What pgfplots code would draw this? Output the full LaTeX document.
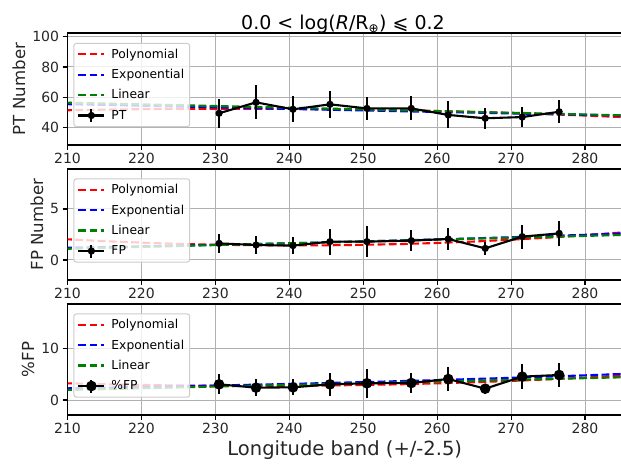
\documentclass[border=0pt]{standalone}
\usepackage{pgfplots}
\pgfplotsset{compat=1.18}
\usepackage{fontspec}
\setmainfont{DejaVu Sans}
\definecolor{mplgreen}{rgb}{0,0.5,0}
\definecolor{gridgray}{HTML}{B0B0B0}

\pgfplotstableread{
x y e
230.5 49.5 9.7
235.5 56.7 11.3
240.5 52.1 8.5
245.5 55.4 8.8
250.5 52.7 7.6
256.5 52.7 7.9
261.5 48.4 8.9
266.5 46.2 6.8
271.5 47.0 6.6
276.5 50.5 7.7
}\PTdata
\pgfplotstableread{
x y e
230.5 1.63 0.90
235.5 1.47 0.88
240.5 1.41 0.82
245.5 1.80 1.27
250.5 1.80 1.52
256.5 1.90 1.01
261.5 2.06 1.11
266.5 1.14 0.65
271.5 2.29 1.18
276.5 2.61 1.21
}\FPdata
\pgfplotstableread{
x y e
230.5 3.03 1.94
235.5 2.39 1.58
240.5 2.45 1.55
245.5 3.03 2.19
250.5 3.23 2.77
256.5 3.29 1.90
261.5 4.06 2.35
266.5 2.19 1.00
271.5 4.52 2.45
276.5 4.84 2.35
}\PFPdata

\pgfplotsset{
  panel/.style={
    scale only axis, width=554.5pt,
    xmin=210, xmax=285,
    xtick={210,220,...,280},
    tick pos=left, tick align=outside,
    major tick length=4.9pt,
    every tick/.style={black, line width=1.1pt},
    axis line style={line width=1.1pt},
    grid=major,
    major grid style={gridgray, line width=1pt},
    /pgf/number format/assume math mode=true,
    tick label style={font=\fontsize{14}{16}\selectfont, text=black!85},
    ylabel style={font=\fontsize{16.6}{19}\selectfont, text=black!85},
    legend cell align=left,
    legend style={at={(0,0.5)}, anchor=west, xshift=5.85pt, yshift=4pt,
      draw=black!20, line width=1pt, rounded corners=2.5pt, fill=white,
      fill opacity=0.8, draw opacity=1, text opacity=1,
      font=\fontsize{12.3}{14}\selectfont, inner sep=3.5pt, row sep=5.5pt,
      /tikz/every odd column/.append style={column sep=4pt}},
  },
  fitline/.style={line width=2.1pt, dash pattern=on 7.8pt off 3.4pt, no markers,
    legend image code/.code={\draw[##1, fill opacity=1, draw opacity=1] (0pt,0pt) -- (26pt,0pt);}},
  datline/.style={black, line width=2.1pt, mark=*, mark size=#1,
    mark options={solid, fill=black},
    error bars/y dir=both, error bars/y explicit, error bars/error mark=none,
    error bars/error bar style={line width=2.1pt, black},
    legend image code/.code={\draw[black,line width=2.1pt, fill opacity=1] (0pt,0pt)--(26pt,0pt); \draw[black,line width=2.1pt] (13pt,-6.5pt)--(13pt,6.5pt); \fill[black, fill opacity=1] (13pt,0pt) circle (#1);}},
}

\begin{document}
\begin{tikzpicture}
% ---------------- top panel
\begin{axis}[panel, at={(67.5pt,323pt)}, anchor=south west, height=112pt,
  ymin=28.6, ymax=102.4, ytick={40,60,80,100}, ylabel={PT Number}]
\addplot[red, fitline] coordinates {(205,51.0) (210,51.5) (215,51.9) (220,52.2) (225,52.4) (230,52.5) (235,52.5) (240,52.4) (245,52.2) (250,51.9) (255,51.5) (260,51.0) (265,50.4) (270,49.7) (275,48.9) (280,48.0) (285,47.0) (290,45.9)};
\addlegendentry{Polynomial}
\addplot[blue, fitline] coordinates {(205,56.04) (210,55.5) (220,54.44) (230,53.39) (240,52.37) (250,51.36) (260,50.38) (270,49.41) (280,48.47) (290,47.54)};
\addlegendentry{Exponential}
\addplot[mplgreen, fitline] coordinates {(205,57.05) (290,47.64)};
\addlegendentry{Linear}
\addplot[datline=2.5pt] table[x=x, y=y, y error=e] {\PTdata};
\addlegendentry{PT}
\end{axis}
% ---------------- middle panel
\begin{axis}[panel, at={(67.5pt,188pt)}, anchor=south west, height=111pt,
  ymin=-1.96, ymax=8.92, ytick={0,5}, ylabel={FP Number}]
\addplot[red, fitline] coordinates {(205,2.24) (210,2.03) (215,1.85) (220,1.70) (225,1.58) (230,1.50) (235,1.45) (240,1.43) (245,1.44) (250,1.49) (255,1.56) (260,1.67) (265,1.81) (270,1.99) (275,2.19) (280,2.43) (285,2.70) (290,3.00)};
\addlegendentry{Polynomial}
\addplot[blue, fitline] coordinates {(205,1.15) (210,1.21) (220,1.34) (230,1.484) (240,1.643) (250,1.82) (260,2.015) (270,2.23) (280,2.47) (290,2.74)};
\addlegendentry{Exponential}
\addplot[mplgreen, fitline] coordinates {(205,1.01) (290,2.54)};
\addlegendentry{Linear}
\addplot[datline=2.5pt] table[x=x, y=y, y error=e] {\FPdata};
\addlegendentry{FP}
\end{axis}
% ---------------- bottom panel
\begin{axis}[panel, at={(67.5pt,53pt)}, anchor=south west, height=111pt,
  ymin=-2.9, ymax=18.57, ytick={0,10}, ylabel={\%FP},
  xlabel={Longitude band (+/-2.5)},
  xlabel style={font=\fontsize{19.5}{22}\selectfont, text=black!85}]
\addplot[red, fitline] coordinates {(205,3.45) (210,3.23) (215,3.05) (220,2.91) (225,2.81) (230,2.75) (235,2.73) (240,2.75) (245,2.81) (250,2.91) (255,3.04) (260,3.22) (265,3.44) (270,3.69) (275,3.99) (280,4.33) (285,4.70) (290,5.11)};
\addlegendentry{Polynomial}
\addplot[blue, fitline] coordinates {(205,2.14) (210,2.26) (220,2.51) (230,2.80) (240,3.11) (250,3.46) (260,3.85) (270,4.29) (280,4.77) (290,5.31)};
\addlegendentry{Exponential}
\addplot[mplgreen, fitline] coordinates {(205,1.78) (290,4.55)};
\addlegendentry{Linear}
\addplot[datline=4.2pt] table[x=x, y=y, y error=e] {\PFPdata};
\addlegendentry{\%FP}
\end{axis}
% title
\node[anchor=base, font=\fontsize{19}{22}\selectfont] at (343pt,438.5pt) {0.0 < log(\textit{R}/R\textsubscript{\fontsize{12}{14}\selectfont ⊕}) ⩽ 0.2};
\pgfresetboundingbox
\useasboundingbox (0,0) rectangle (621pt,468pt);
\end{tikzpicture}
\end{document}
